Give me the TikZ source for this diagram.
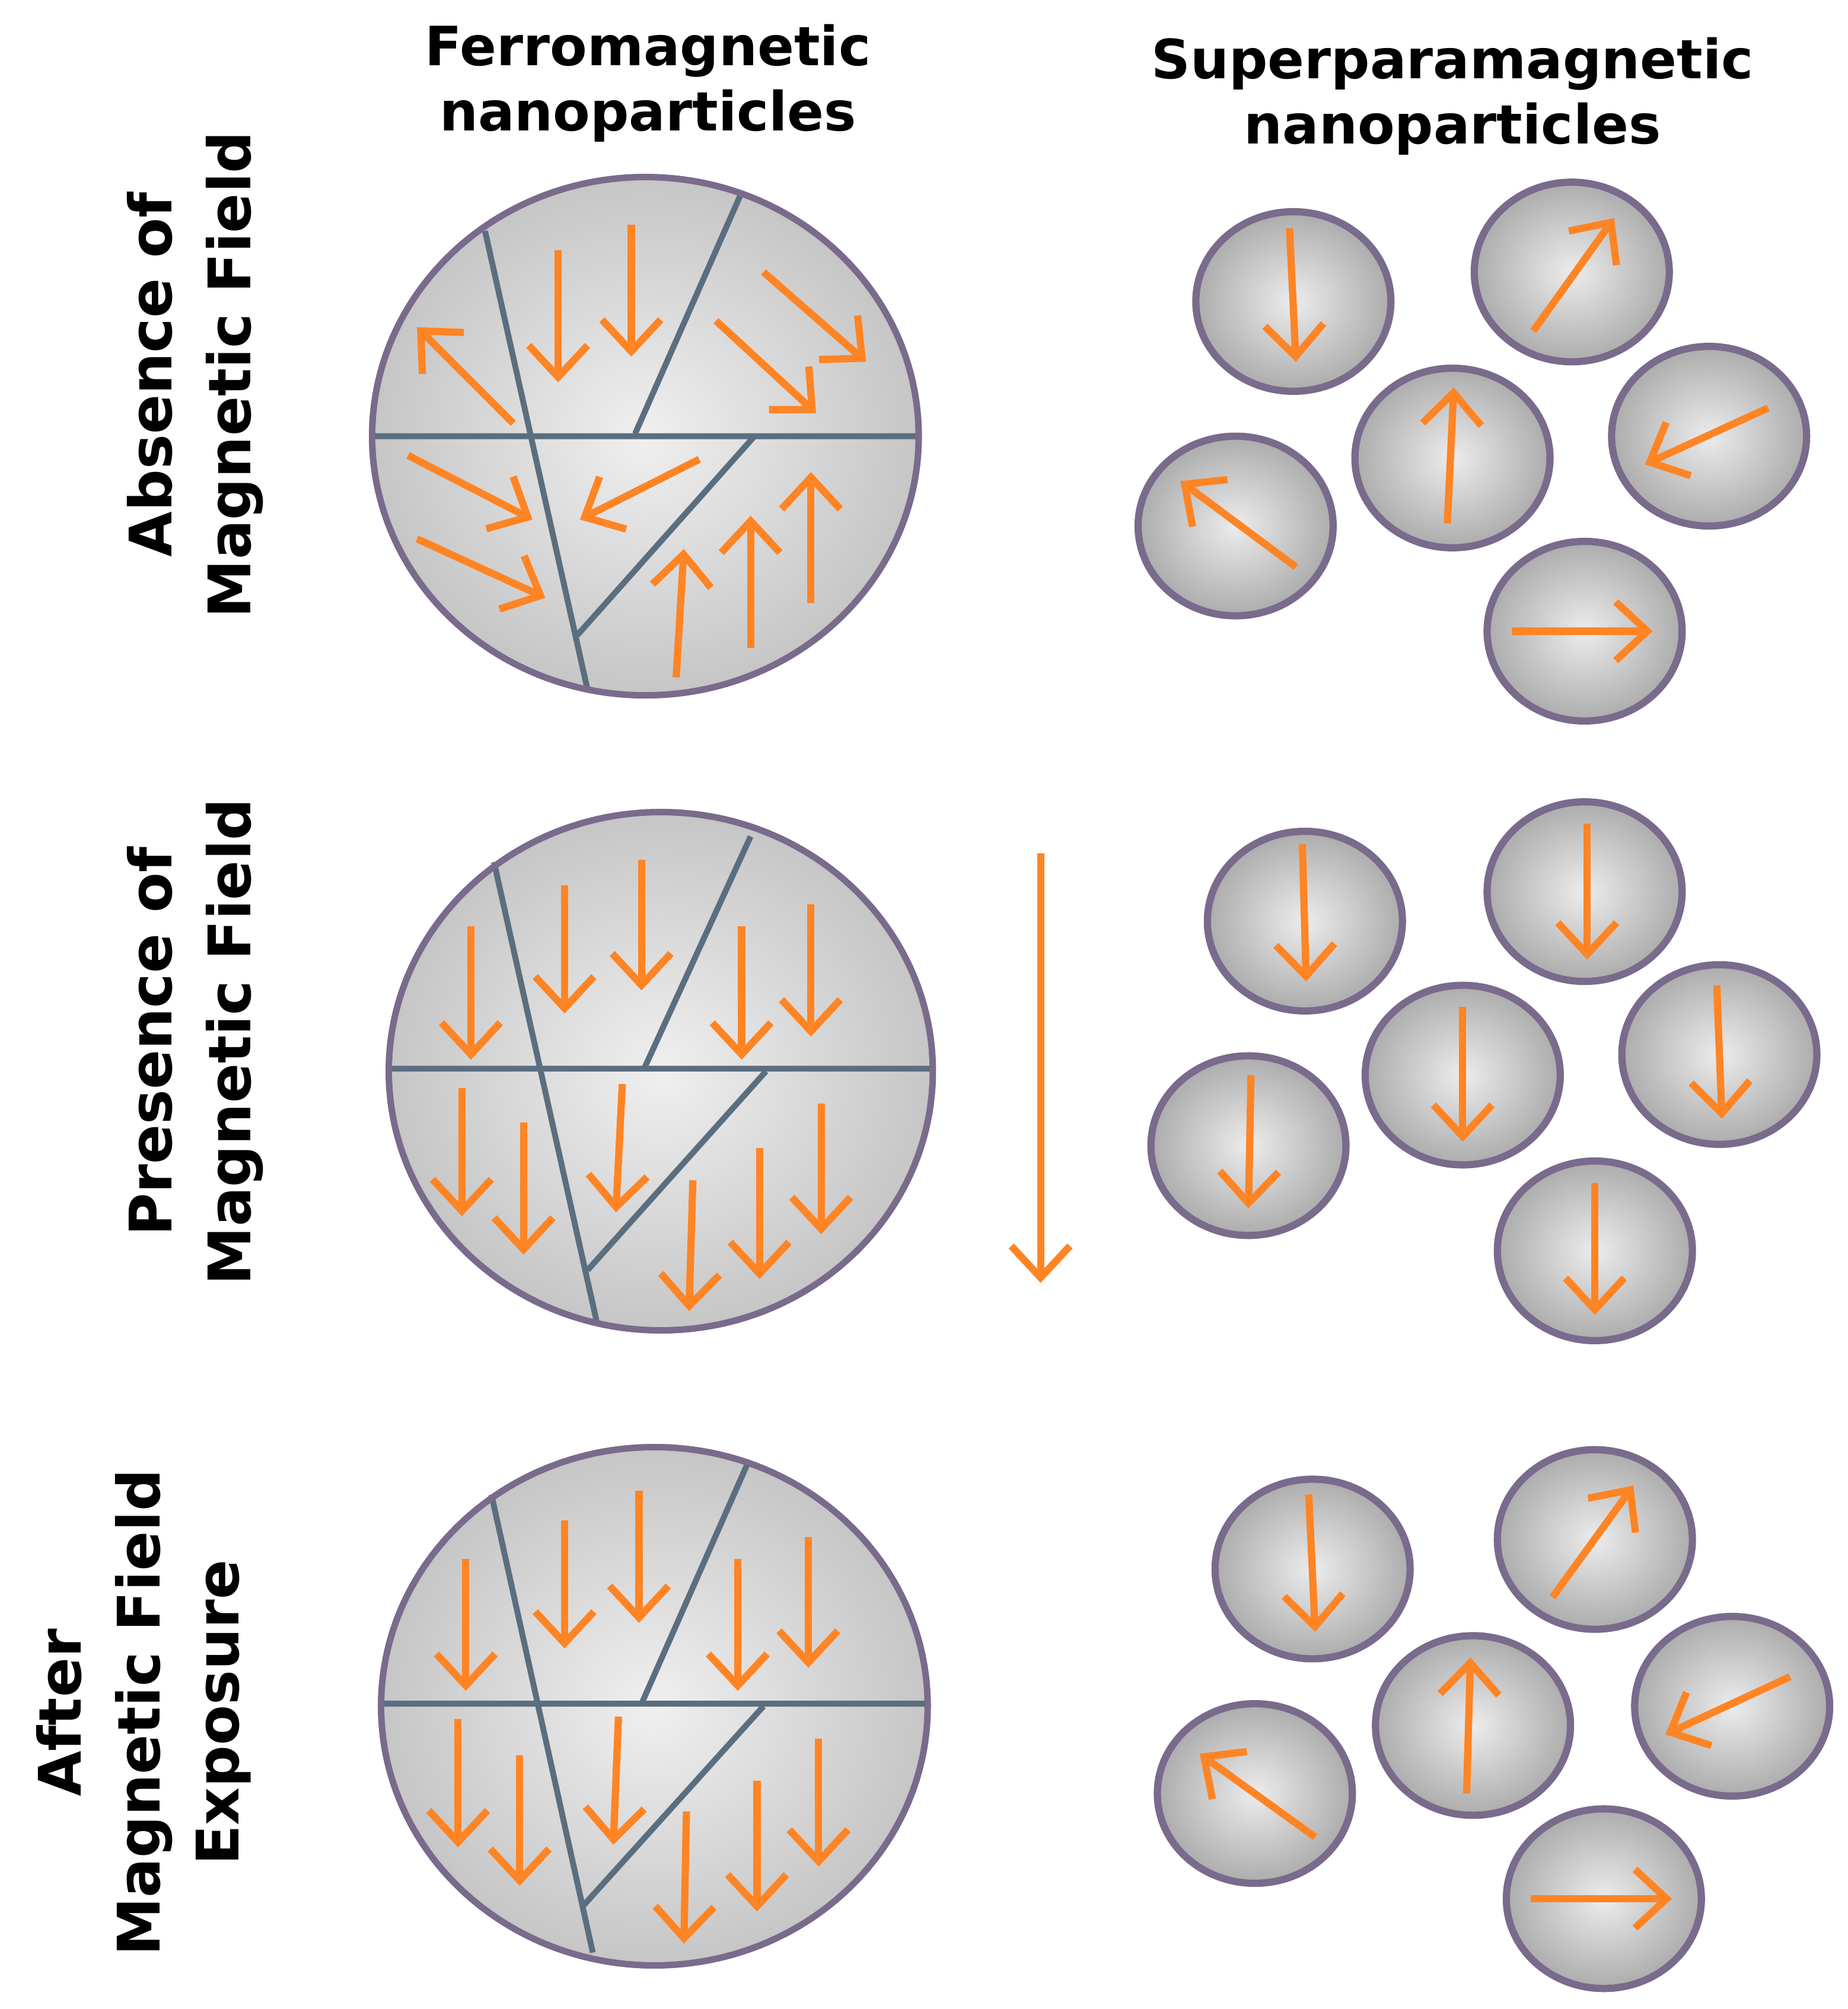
\documentclass[tikz,border=0pt]{standalone}
\usepackage{fontspec}
\setmainfont{DejaVu Sans}
\usetikzlibrary{arrows.meta}
\definecolor{rim}{HTML}{7A6A8C}
\definecolor{dom}{HTML}{5A6E80}
\definecolor{org}{HTML}{FF8424}
\tikzset{
 big/.style={draw=rim,line width=1.4pt,inner color=white!88!gray,outer color=gray!45!white},
 small/.style={draw=rim,line width=1.6pt,inner color=white!85!gray,outer color=gray!65!white},
 wall/.style={draw=dom,line width=1.3pt},
 arr/.style={draw=org,line width=1.6pt,-{Straight Barb[length=7pt,width=13pt,line width=1.6pt]}},
 lab/.style={font=\fontsize{12}{14.5}\selectfont\bfseries,align=center},
 slab/.style={font=\fontsize{13}{17.5}\selectfont\bfseries,align=center,rotate=90}
}
\begin{document}
\begin{tikzpicture}[x=0.01cm,y=-0.01cm]
\useasboundingbox (0,0) rectangle (1440,1566);
% labels
\node[lab] (t1) at (505,65) {Ferromagnetic\\nanoparticles};
\node[lab] (t2) at (1132,75) {Superparamagnetic\\nanoparticles};
\node[slab] (r1) at (152,292) {Absence of\\Magnetic Field};
\node[slab] (r2) at (152,812) {Presence of\\Magnetic Field};
\node[slab] (r3) at (112,1335) {After\\Magnetic Field\\Exposure};
% row 1 big
\fill[big] (503,340) ellipse [x radius=213,y radius=202];
\draw[wall] (378,180)--(458,538) (290,340)--(716,340) (578,150)--(495,338) (588,340)--(450,495);
\draw[rim,line width=1.4pt] (503,340) ellipse [x radius=213,y radius=202];
\draw[arr] (400,330)--(325,255);
\draw[arr] (435,195)--(435,298);
\draw[arr] (492,175)--(492,278);
\draw[arr] (595,212)--(675,282);
\draw[arr] (558,250)--(636,322);
\draw[arr] (318,355)--(415,405);
\draw[arr] (325,420)--(425,466);
\draw[arr] (545,358)--(452,405);
\draw[arr] (527,528)--(533,428);
\draw[arr] (585,505)--(585,402);
\draw[arr] (632,470)--(632,368);
% row 2 big
\fill[big] (515,835) ellipse [x radius=212,y radius=202];
\draw[wall] (385,672)--(465,1030) (302,833)--(726,833) (585,652)--(502,833) (597,835)--(458,990);
\draw[rim,line width=1.4pt] (515,835) ellipse [x radius=212,y radius=202];
\foreach \a/\b/\c/\d in {367/722/367/826,440/690/440/790,500/670/500/772,578/722/578/826,632/705/632/808,360/848/360/948,408/875/408/978,485/845/480/945,540/920/537/1022,592/895/592/997,640/860/640/962}
 \draw[arr] (\a,\b)--(\c,\d);
\draw[arr] (811,665)--(811,1000);
% row 3 big
\fill[big] (510,1330) ellipse [x radius=213,y radius=202];
\draw[wall] (383,1165)--(462,1522) (297,1328)--(722,1328) (583,1140)--(500,1328) (595,1330)--(455,1485);
\draw[rim,line width=1.4pt] (510,1330) ellipse [x radius=213,y radius=202];
\foreach \a/\b/\c/\d in {363/1215/363/1318,440/1185/440/1285,498/1162/498/1265,575/1215/575/1318,630/1198/630/1300,357/1340/357/1440,405/1368/405/1470,482/1338/478/1438,535/1412/533/1515,590/1388/590/1490,638/1355/638/1455}
 \draw[arr] (\a,\b)--(\c,\d);
% small particles
\foreach \x/\y in {1008/235,1225/212,1132/357,1332/340,963/410,1235/492,
                   1017/718,1235/695,1140/838,1340/822,973/893,1243/975,
                   1023/1223,1243/1200,1148/1345,1350/1330,978/1398,1250/1480}
 \draw[small] (\x,\y) ellipse [x radius=76,y radius=70];
\foreach \a/\b/\c/\d in {1005/178/1010/282,1195/258/1258/170,1128/408/1133/302,1378/318/1282/362,1010/442/920/375,1178/492/1288/492,
 1015/658/1018/765,1237/642/1237/748,1140/785/1140/890,1338/768/1342/872,975/838/973/942,1243/922/1243/1025,
 1020/1165/1025/1272,1210/1245/1273/1158,1143/1398/1146/1292,1395/1307/1298/1352,1025/1432/935/1367,1193/1480/1303/1480}
 \draw[arr] (\a,\b)--(\c,\d);
\end{tikzpicture}
\end{document}
